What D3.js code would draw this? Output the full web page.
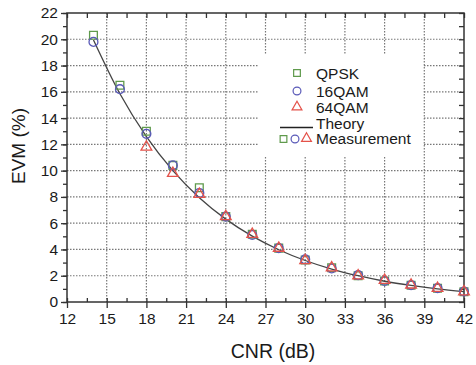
<!DOCTYPE html>
<html><head><meta charset="utf-8">
<script src="https://cdn.jsdelivr.net/npm/d3@7"></script>
<style>body{margin:0;background:#fff}svg{display:block}text{font-family:"Liberation Sans",Arial,sans-serif;fill:#1a1a1a}</style>
</head><body><svg id="c" width="476" height="365"></svg>
<script>
const cnr = [14,16,18,20,22,24,26,28,30,32,34,36,38,40,42];
const theory = [19.95,15.85,12.59,10.0,7.94,6.31,5.01,3.98,3.16,2.51,2.0,1.58,1.26,1.0,0.79];
const qpsk  = [20.3,16.5,13.0,10.4,8.7,6.5,5.15,4.1,3.2,2.6,2.0,1.6,1.27,1.04,0.78];
const qam16 = [19.8,16.2,12.8,10.4,8.3,6.5,5.1,4.1,3.25,2.55,2.05,1.6,1.28,1.05,0.8];
const qam64 = [null,null,11.8,9.8,8.2,6.5,5.15,4.1,3.15,2.6,2.0,1.65,1.3,1.05,0.78];
const xTicks = [12,15,18,21,24,27,30,33,36,39,42];
const yTicks = [0,2,4,6,8,10,12,14,16,18,20,22];
const legendLabels = ["QPSK","16QAM","64QAM","Theory","Measurement"];

const colors = {sq:"#5f9a4c", ci:"#5a5ab8", tr:"#e4524a"};
const svg = d3.select("#c");
const L=67,R=464,T=13,B=302;
const x = d3.scaleLinear().domain([12,42]).range([L,R]);
const y = d3.scaleLinear().domain([0,22]).range([B,T]);

// grid
const g = svg.append("g");
g.selectAll(".vg").data(xTicks.slice(1,-1)).join("line")
  .attr("x1",d=>x(d)).attr("x2",d=>x(d)).attr("y1",T).attr("y2",B)
  .attr("stroke","#777").attr("stroke-width",1.2).attr("stroke-dasharray","1.5,1.5");
g.selectAll(".hg").data(yTicks.slice(1,-1)).join("line")
  .attr("y1",d=>y(d)).attr("y2",d=>y(d)).attr("x1",L).attr("x2",R)
  .attr("stroke","#777").attr("stroke-width",1.2).attr("stroke-dasharray","1.5,1.5");

// legend background
svg.append("rect").attr("x",258).attr("y",55).attr("width",165).attr("height",101).attr("fill","#fff");

// axes
const minorX = d3.range(12,42.01,1.5);
const minorY = d3.range(0,22.01,1);
const ax = svg.append("g").attr("transform",`translate(0,${B})`)
  .call(d3.axisBottom(x).tickValues(xTicks).tickSize(6).tickSizeOuter(0).tickPadding(5));
ax.append("g").call(d3.axisTop(x).tickValues(minorX).tickSize(4).tickFormat(""));
const ay = svg.append("g").attr("transform",`translate(${L},0)`)
  .call(d3.axisLeft(y).tickValues(yTicks).tickSize(6).tickSizeOuter(0).tickPadding(3));
ay.append("g").call(d3.axisLeft(y).tickValues(minorY).tickSize(4).tickFormat(""));
// mirrored top/right inward ticks
svg.append("g").attr("transform",`translate(0,${T})`).call(d3.axisBottom(x).tickValues(minorX).tickSize(5).tickFormat(""));
svg.append("g").attr("transform",`translate(${R},0)`).call(d3.axisLeft(y).tickValues(minorY).tickSize(5).tickFormat(""));
svg.selectAll(".domain").remove();
svg.selectAll(".tick line").attr("stroke","#333").attr("stroke-width",1.3);
svg.selectAll(".tick text").attr("font-size",15.5).attr("fill","#1a1a1a").style("font-family","Liberation Sans, Arial, sans-serif");
svg.append("rect").attr("x",L).attr("y",T).attr("width",R-L).attr("height",B-T)
  .attr("fill","none").attr("stroke","#333").attr("stroke-width",1.5);

// theory line
const pts = cnr.map((c,i)=>[c,theory[i]]);
svg.append("path").datum(pts).attr("fill","none").attr("stroke","#444").attr("stroke-width",1.3)
  .attr("d",d3.line().x(d=>x(d[0])).y(d=>y(d[1])).curve(d3.curveMonotoneX));

const sym = {sq:d3.symbol().type(d3.symbolSquare).size(60)(),
             ci:d3.symbol().type(d3.symbolCircle).size(62)(),
             tr:d3.symbol().type(d3.symbolTriangle).size(50)()};
function drawSeries(vals,key){
  svg.append("g").selectAll("path").data(cnr.map((c,i)=>[c,vals[i]]).filter(d=>d[1]!=null)).join("path")
    .attr("d",sym[key]).attr("transform",d=>`translate(${x(d[0])},${y(d[1])})`)
    .attr("fill","none").attr("stroke",colors[key]).attr("stroke-width",1.3);
}
drawSeries(qpsk,"sq"); drawSeries(qam16,"ci"); drawSeries(qam64,"tr");

// legend
const lg = svg.append("g");
const mk = (key,cx,cy,s)=>lg.append("path").attr("d",d3.symbol().type(key==="sq"?d3.symbolSquare:key==="ci"?d3.symbolCircle:d3.symbolTriangle).size(s)())
  .attr("transform",`translate(${cx},${cy})`).attr("fill","none").attr("stroke",colors[key]).attr("stroke-width",1.2);
mk("sq",297,73,45); mk("ci",297,91,48); mk("tr",297,107,42);
const lt = (t,yy)=>lg.append("text").attr("x",316).attr("y",yy).attr("font-size",15.5).attr("dy","0.35em").text(t);
lt(legendLabels[0],74); lt(legendLabels[1],91.5); lt(legendLabels[2],108);
lg.append("line").attr("x1",280).attr("x2",313).attr("y1",127.5).attr("y2",127.5).attr("stroke","#222").attr("stroke-width",1.3);
lt(legendLabels[3],123.5);
mk("sq",283.5,139,45); mk("ci",295,139,48); mk("tr",306.5,138.5,42);
lt(legendLabels[4],139);

// titles
svg.append("text").attr("x",273).attr("y",358).attr("text-anchor","middle").attr("font-size",19.5).text("CNR (dB)");
svg.append("text").attr("transform","translate(18,146) rotate(-90)").attr("text-anchor","middle").attr("dy","0.35em").attr("font-size",19).text("EVM (%)");
</script></body></html>
